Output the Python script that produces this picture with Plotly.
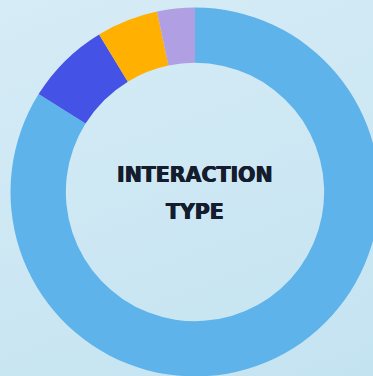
import plotly.graph_objects as go

# Share of each interaction type (percent)
interaction_types = ["Views", "Likes", "Shares", "Comments"]
shares = [83.9, 7.4, 5.4, 3.3]
slice_colors = ["#5eb3ea", "#4452e6", "#ffb000", "#b0a0e3"]
center_lines = ["INTERACTION", "TYPE"]

W, H = 390, 377
cx, cy, R = 195, 192, 184.5  # donut centre and outer radius in px

fig = go.Figure(
    go.Pie(
        labels=interaction_types,
        values=shares,
        marker=dict(colors=slice_colors, line=dict(width=0)),
        hole=0.70,
        sort=False,
        direction="clockwise",
        rotation=0,
        textinfo="none",
        hoverinfo="label+percent",
        showlegend=False,
        domain=dict(
            x=[(cx - R) / W, (cx + R) / W],
            y=[(H - cy - R) / H, (H - cy + R) / H],
        ),
    )
)

for text, ypx in zip(center_lines, [175, 212]):
    fig.add_annotation(
        text=text,
        x=cx / W, y=(H - ypx) / H,
        xref="paper", yref="paper",
        xanchor="center", yanchor="middle",
        showarrow=False,
        font=dict(
            family="DejaVu Sans", size=20.5, color="#141c2e", weight="bold",
            shadow="0.5px 0 0 #141c2e, -0.5px 0 0 #141c2e",
        ),
    )

fig.update_layout(
    width=W, height=H,
    margin=dict(l=0, r=0, t=0, b=0),
    paper_bgcolor="rgba(0,0,0,0)",
    plot_bgcolor="rgba(0,0,0,0)",
)

page_style = (
    "document.documentElement.style.overflow='hidden';"
    "document.body.style.overflow='hidden';"
    "document.body.style.margin='0';"
    "document.body.style.background='linear-gradient(160deg,#d6ecf6 0%,#c4e3f1 100%)';"
    "document.body.style.minHeight='100vh';"
)

fig.write_html("out.html", post_script=page_style)
